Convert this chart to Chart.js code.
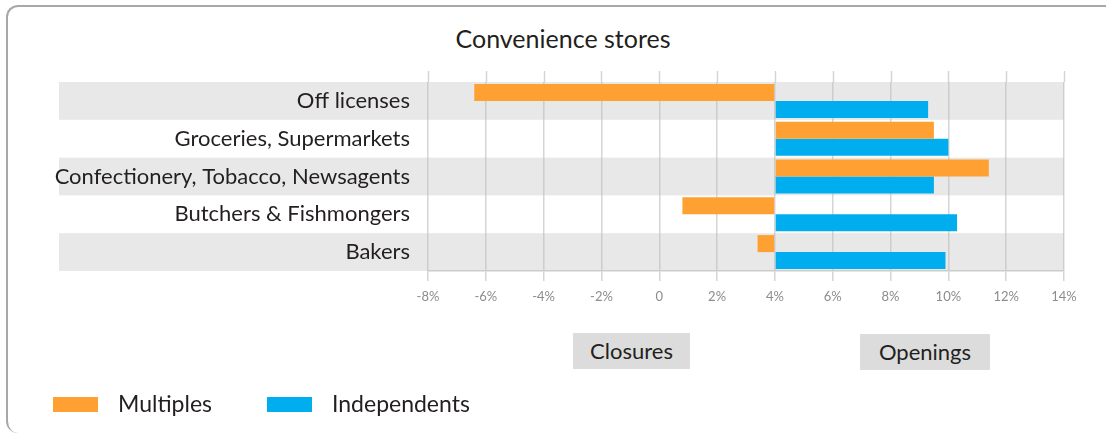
<!DOCTYPE html>
<html>
<head>
<meta charset="utf-8">
<script src="https://cdn.jsdelivr.net/npm/chart.js@4/dist/chart.umd.min.js"></script>
<style>
  html, body { margin:0; padding:0; background:#fff; }
  body { width:1106px; height:433px; position:relative; overflow:hidden; font-family: Lato, "Open Sans", sans-serif; color:#231f20; }
  #frame { position:absolute; left:6px; top:5px; width:1200px; height:428px; border:2px solid #a8a8a8; border-radius:12px; border-right:none; border-bottom:none; box-sizing:border-box; }
  #wrap { position:absolute; left:0; top:0; width:1106px; height:433px; }
  #title { position:absolute; left:0; width:1126px; top:23px; text-align:center; font-size:25px; }
  .tag { position:absolute; background:#dcdcdc; font-size:22px; text-align:center; line-height:36px; height:36px; }
  .leg { position:absolute; top:397px; width:45px; height:15px; }
  .legt { position:absolute; top:389px; font-size:23px; }
</style>
</head>
<body>
<div id="frame"></div>
<div id="title">Convenience stores</div>
<div id="wrap"><canvas id="c" width="1106" height="433"></canvas></div>
<div class="tag" style="left:573px; top:333px; width:117px;">Closures</div>
<div class="tag" style="left:860px; top:334px; width:130px;">Openings</div>
<div class="leg" style="left:53px; background:#ffa033;"></div>
<div class="legt" style="left:118px;">Multiples</div>
<div class="leg" style="left:267px; background:#00aeef;"></div>
<div class="legt" style="left:332px;">Independents</div>
<script>
const categories = ["Off licenses", "Groceries, Supermarkets", "Confectionery, Tobacco, Newsagents", "Butchers & Fishmongers", "Bakers"];
const multiples = [-6.4, 9.5, 11.4, 0.8, 3.4];
const independents = [9.3, 10.0, 9.5, 10.3, 9.9];
const tickValues = [-8, -6, -4, -2, 0, 2, 4, 6, 8, 10, 12, 14];
const tickLabels = ["-8%", "-6%", "-4%", "-2%", "0", "2%", "4%", "6%", "8%", "10%", "12%", "14%"];
const baseValue = 4;

const bandPlugin = {
  id: 'bands',
  beforeDraw(chart) {
    const ctx = chart.ctx, y = chart.scales.y, area = chart.chartArea;
    const step = (area.bottom - area.top) / categories.length;
    ctx.save();
    ctx.fillStyle = '#e8e8e8';
    categories.forEach((c, i) => {
      if (i % 2 === 0) {
        const cy = y.getPixelForValue(i);
        ctx.fillRect(59, cy - step / 2, area.right - 59, step);
      }
    });
    ctx.restore();
  },
  afterDraw(chart) {
    const ctx = chart.ctx, x = chart.scales.x, area = chart.chartArea;
    ctx.save();
    ctx.strokeStyle = 'rgba(190,190,190,0.65)';
    ctx.lineWidth = 1.5;
    tickValues.forEach(v => {
      const px = Math.round(x.getPixelForValue(v)) + 0.5;
      ctx.beginPath();
      ctx.moveTo(px, 71);
      ctx.lineTo(px, area.top);
      ctx.stroke();
    });
    ctx.restore();
  }
};

new Chart(document.getElementById('c'), {
  type: 'bar',
  data: {
    labels: categories,
    datasets: [
      { label: 'Multiples', data: multiples, base: baseValue, backgroundColor: '#ffa033', borderWidth: 0 },
      { label: 'Independents', data: independents, base: baseValue, backgroundColor: '#00aeef', borderWidth: 0 }
    ]
  },
  options: {
    indexAxis: 'y',
    responsive: false,
    animation: false,
    devicePixelRatio: 1,
    categoryPercentage: 0.9,
    barPercentage: 1.0,
    layout: { padding: { left: 0, right: 42, top: 82, bottom: 122 } },
    plugins: { legend: { display: false }, tooltip: { enabled: false }, title: { display: false } },
    scales: {
      x: {
        type: 'linear', min: -8, max: 14, z: 1,
        afterBuildTicks(scale) { scale.ticks = tickValues.map(v => ({ value: v })); },
        afterFit(scale) { scale.height = 40; },
        grid: { color: 'rgba(190,190,190,0.65)', lineWidth: 1.5, tickLength: 10, drawTicks: true },
        border: { display: true, color: '#cccccc', width: 1.5 },
        ticks: {
          autoSkip: false, maxRotation: 0, padding: 8, color: '#8c8c8c',
          font: { family: 'Lato, "Open Sans", sans-serif', size: 13 },
          callback(v) { const i = tickValues.indexOf(v); return i >= 0 ? tickLabels[i] : ''; }
        }
      },
      y: {
        afterFit(scale) { scale.width = 428; },
        grid: { display: false, drawTicks: false },
        border: { display: false },
        ticks: { padding: 18, color: '#231f20', font: { family: 'Lato, "Open Sans", sans-serif', size: 22 } }
      }
    }
  },
  plugins: [bandPlugin]
});
</script>
</body>
</html>
